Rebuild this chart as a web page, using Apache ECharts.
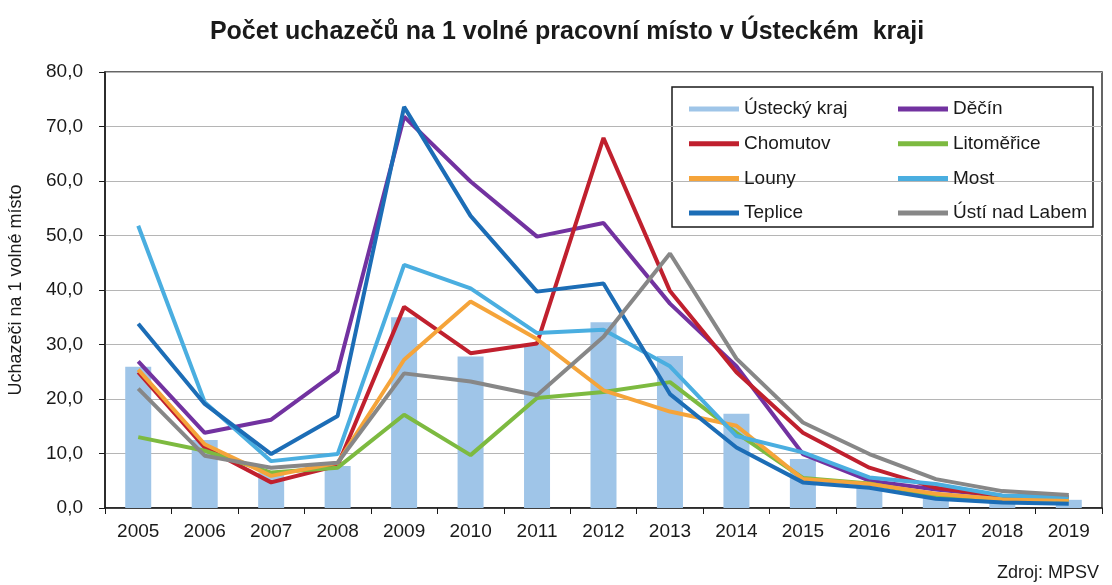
<!doctype html>
<html lang="cs">
<head>
    <meta charset="UTF-8">
    <title>Počet uchazečů na 1 volné pracovní místo</title>
    <script src="https://cdn.jsdelivr.net/npm/echarts@6/dist/echarts.min.js"></script>
    <style>
        html, body {
            margin: 0;
            padding: 0;
            background-color: #ffffff;
        }

        #mainChart {
            width: 1112px;
            height: 585px;
        }
    </style>
</head>
<body>
<div id="mainChart"></div>
<script>
    // roky na ose x
    const years = ['2005', '2006', '2007', '2008', '2009', '2010', '2011', '2012',
        '2013', '2014', '2015', '2016', '2017', '2018', '2019'];

    // hodnoty
    const ustecky = [25.9, 12.5, 6.5, 7.7, 35.0, 27.8, 30.0, 34.1, 27.9, 17.3, 9.0, 3.8, 1.8, 1.5, 1.5];
    const decin = [26.9, 13.8, 16.2, 25.1, 71.8, 59.9, 49.8, 52.3, 37.5, 26.0, 9.9, 5.0, 3.4, 2.2, 2.0];
    const chomutov = [24.9, 11.1, 4.7, 7.8, 36.9, 28.4, 30.2, 67.9, 39.8, 24.9, 13.8, 7.4, 3.7, 2.2, 2.0];
    const litomerice = [13.0, 10.5, 6.5, 7.4, 17.1, 9.7, 20.2, 21.3, 23.1, 13.8, 5.5, 4.5, 2.2, 1.6, 1.5];
    const louny = [25.4, 11.7, 5.9, 8.3, 27.2, 37.9, 31.0, 21.6, 17.7, 15.1, 5.3, 4.4, 2.6, 1.6, 1.5];
    const most = [51.8, 19.4, 8.6, 9.9, 44.6, 40.3, 32.1, 32.7, 26.0, 13.2, 10.2, 5.6, 4.4, 2.3, 2.0];
    const teplice = [33.8, 19.1, 9.9, 16.9, 73.6, 53.6, 39.7, 41.2, 20.9, 11.1, 4.7, 3.7, 1.7, 1.0, 0.8];
    const usti = [21.9, 9.6, 7.4, 8.3, 24.7, 23.2, 20.7, 31.4, 46.7, 27.4, 15.7, 9.9, 5.3, 3.1, 2.4];

    const legendLeft = ['Ústecký kraj', 'Chomutov', 'Louny', 'Teplice'];
    const legendRight = ['Děčín', 'Litoměřice', 'Most', 'Ústí nad Labem'];

    const font = '"Liberation Sans", Arial, sans-serif';

    function lineSeries(name, data, color) {
        return {
            name: name,
            type: 'line',
            data: data,
            symbol: 'none',
            lineStyle: {width: 4, color: color},
            itemStyle: {color: color}
        };
    }

    let myChart = echarts.init(document.getElementById('mainChart'));

    let legendBase = {
        orient: 'vertical',
        icon: 'rect',
        itemWidth: 50,
        itemHeight: 5,
        itemGap: 14.7,
        textStyle: {fontFamily: font, fontSize: 19, color: '#1a1a1a', lineHeight: 20}
    };

    let option = {
        animation: false,
        backgroundColor: '#ffffff',
        title: [{
            text: 'Počet uchazečů na 1 volné pracovní místo v Ústeckém  kraji',
            left: 562,
            textAlign: 'center',
            top: 15,
            textStyle: {fontFamily: font, fontSize: 25, fontWeight: 'bold', color: '#1a1a1a'}
        }, {
            text: 'Zdroj: MPSV',
            right: 8,
            top: 559,
            textStyle: {fontFamily: font, fontSize: 18, fontWeight: 'normal', color: '#1a1a1a'}
        }],
        legend: [
            Object.assign({data: legendLeft, left: 684, top: 94, itemTextGap: 5}, legendBase),
            Object.assign({data: legendRight, left: 893, top: 94, itemTextGap: 2}, legendBase)
        ],
        graphic: [{
            type: 'rect',
            shape: {x: 672, y: 87, width: 421, height: 140},
            style: {fill: null, stroke: '#1a1a1a', lineWidth: 1.5},
            z: 0
        }],
        grid: {
            left: 105,
            right: 10,
            top: 72,
            bottom: 77,
            containLabel: false,
            outerBoundsMode: 'none',
            show: true,
            borderColor: '#333333',
            borderWidth: 1.5
        },
        xAxis: {
            type: 'category',
            data: years,
            axisLine: {lineStyle: {color: '#1a1a1a', width: 1.5}},
            axisTick: {show: true, length: 6, lineStyle: {color: '#1a1a1a'}},
            axisLabel: {fontFamily: font, fontSize: 19, color: '#1a1a1a', margin: 14}
        },
        yAxis: {
            type: 'value',
            min: 0,
            max: 80,
            interval: 10,
            name: 'Uchazeči na 1 volné místo',
            nameLocation: 'middle',
            nameGap: 80,
            nameTextStyle: {fontFamily: font, fontSize: 18, color: '#1a1a1a'},
            axisLine: {show: true, lineStyle: {color: '#1a1a1a', width: 1.5}},
            axisTick: {show: true, length: 6, lineStyle: {color: '#1a1a1a'}},
            axisLabel: {
                fontFamily: font, fontSize: 19, color: '#1a1a1a', margin: 22,
                formatter: function (v) {
                    return v.toFixed(1).replace('.', ',');
                }
            },
            splitLine: {lineStyle: {color: '#b5b5b5', width: 1.2}}
        },
        series: [
            {
                name: 'Ústecký kraj',
                type: 'bar',
                data: ustecky,
                barWidth: 26,
                itemStyle: {color: '#9fc5e8'}
            },
            lineSeries('Děčín', decin, '#7232a0'),
            lineSeries('Chomutov', chomutov, '#c0202e'),
            lineSeries('Litoměřice', litomerice, '#7dba40'),
            lineSeries('Louny', louny, '#f5a43a'),
            lineSeries('Most', most, '#4aaee0'),
            lineSeries('Teplice', teplice, '#1c6db6'),
            lineSeries('Ústí nad Labem', usti, '#878787')
        ]
    };

    option && myChart.setOption(option);
</script>
</body>
</html>
